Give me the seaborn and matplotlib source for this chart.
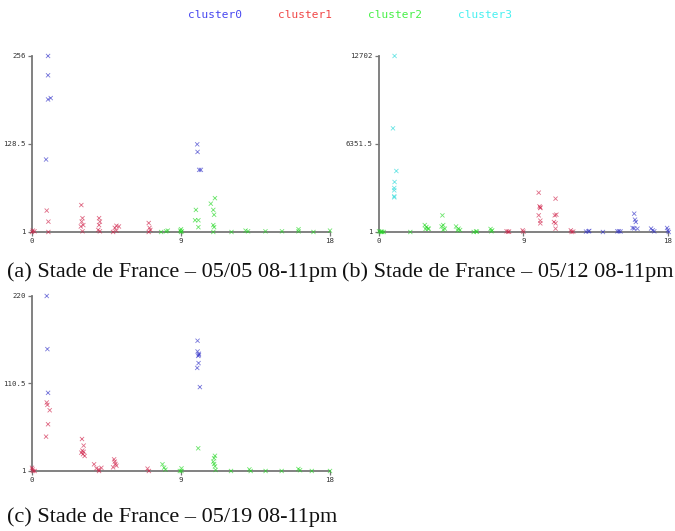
import matplotlib
matplotlib.use("Agg")
import matplotlib.pyplot as plt
import seaborn as sns
import pandas as pd

# ---- data: hourly counts per cluster, three evenings at Stade de France ----
clusters = ["cluster0", "cluster1", "cluster2", "cluster3"]
cluster_colors = ["#3030c8", "#d02048", "#22d822", "#22d8d8"]
legend_colors = ["#4646f0", "#f04646", "#46f046", "#46f0f0"]

x_ticks = [0, 9, 18]

# (a) 05/05
a_c0_x = [0.97, 0.97, 0.97, 1.13, 0.85, 9.98, 10.0, 10.1, 10.2]
a_c0_y = [256, 228, 193, 195, 106, 128, 117, 91, 91]
a_c1_x = [0.0, 0.05, 0.15, 0.89, 0.99, 0.99, 2.98, 3.05, 3.0, 3.1, 3.05, 2.95,
          4.05, 4.1, 4.05, 4.0, 4.1, 5.0, 5.1, 5.25, 5.1, 4.9, 7.05, 7.1, 7.05, 7.15]
a_c1_y = [1, 3, 2, 32, 16, 1, 40, 21, 16, 11, 2, 9,
          21, 16, 11, 4, 2, 7, 10, 9, 3, 1, 14, 7, 1, 4]
a_c2_x = [7.8, 8.1, 8.2, 9.0, 9.0, 8.95, 9.05, 9.9, 9.85, 10.05, 10.05, 10.8,
          11.05, 10.95, 11.0, 10.95, 11.0, 10.95, 12.05, 12.9, 13.05, 14.1, 15.1,
          16.1, 16.1, 17.0, 18.0]
a_c2_y = [1, 2, 3, 5, 1, 3, 2, 33, 18, 18, 8, 42,
          50, 33, 26, 11, 8, 1, 1, 3, 2, 2, 2, 5, 2, 1, 3]
a_y_ticks = [1, 128.5, 256]
a_y_labels = ["1", "128.5", "256"]

# (b) 05/12
b_c3_x = [0.97, 0.87, 1.08, 0.97, 0.95, 0.95, 0.95, 0.95]
b_c3_y = [12702, 7481, 4402, 3609, 3176, 3007, 2574, 2502]
b_c2_x = [0.0, 0.1, 0.2, 0.3, 0.15, 1.95, 2.85, 2.95, 3.05, 3.1, 2.9, 3.95, 4.0,
          3.9, 4.1, 4.0, 4.8, 4.95, 5.05, 4.9, 5.9, 6.05, 6.1, 6.95, 7.05, 7.0]
b_c2_y = [50, 10, 1, 1, 30, 1, 500, 360, 240, 240, 220, 1200, 500,
          400, 240, 160, 400, 240, 140, 120, 1, 50, 20, 220, 120, 50]
b_c1_x = [7.95, 8.05, 8.1, 8.95, 9.0, 9.95, 10.0, 10.05, 10.05, 9.95, 10.05, 10.05,
          11.0, 10.95, 11.05, 10.9, 11.0, 11.0, 11.95, 12.0, 12.1]
b_c1_y = [50, 20, 30, 120, 20, 2839, 1850, 1730, 1780, 1203, 819, 626,
          2406, 1203, 1250, 722, 626, 241, 120, 1, 30]
b_c0_x = [12.9, 13.05, 13.1, 13.95, 14.85, 14.95, 15.05, 15.9, 15.95, 16.0, 15.9,
          15.8, 16.1, 16.95, 17.05, 17.15, 17.95, 18.0, 18.05]
b_c0_y = [30, 50, 80, 1, 50, 60, 40, 1324, 890, 722, 265,
          290, 240, 250, 120, 50, 290, 120, 1]
b_y_ticks = [1, 6351.5, 12702]
b_y_labels = ["1", "6351.5", "12702"]

# (c) 05/19
c_c0_x = [0.89, 0.93, 0.97, 10.0, 10.0, 10.08, 10.04, 10.08, 10.06, 9.98, 10.14]
c_c0_y = [220, 153.5, 98.8, 164, 150.6, 147.7, 145, 146, 136, 130, 106]
c_c1_x = [0.0, 0.03, 0.06, 0.16, 0.89, 0.93, 1.07, 0.97, 0.85, 3.02, 3.12, 3.04,
          2.98, 3.12, 3.08, 3.18, 3.75, 3.89, 4.03, 4.19, 4.05, 4.96, 5.0, 5.04,
          5.1, 4.9, 6.98, 7.06]
c_c1_y = [5, 3, 1, 1, 86.7, 83.7, 77, 59.5, 44, 41, 32.8, 26.5,
          24, 25, 22, 19.8, 9.4, 4.3, 3, 5, 1, 15.6, 12.7, 9.8,
          7.7, 5.6, 4, 1]
c_c2_x = [7.88, 7.98, 8.06, 9.03, 9.03, 8.93, 10.04, 11.05, 11.0, 10.95, 11.0,
          11.05, 11.09, 12.02, 13.13, 13.21, 14.11, 15.08, 16.09, 16.19, 16.9, 18.0]
c_c2_y = [9.4, 5.2, 2.7, 4.3, 1, 1, 29.4, 20, 17, 12.7, 9.8,
          6.8, 2.3, 1, 3, 1, 1, 1, 3.5, 2, 1, 1]
c_y_ticks = [1, 110.5, 220]
c_y_labels = ["1", "110.5", "220"]

captions = ["(a) Stade de France \u2013 05/05 08-11pm",
            "(b) Stade de France \u2013 05/12 08-11pm",
            "(c) Stade de France \u2013 05/19 08-11pm"]


def frame(groups):
    rows = []
    for name, xs, ys in groups:
        for xv, yv in zip(xs, ys):
            rows.append({"hour": xv, "count": yv, "cluster": name})
    return pd.DataFrame(rows)


df_a = frame([("cluster0", a_c0_x, a_c0_y), ("cluster1", a_c1_x, a_c1_y),
              ("cluster2", a_c2_x, a_c2_y)])
df_b = frame([("cluster3", b_c3_x, b_c3_y), ("cluster2", b_c2_x, b_c2_y),
              ("cluster1", b_c1_x, b_c1_y), ("cluster0", b_c0_x, b_c0_y)])
df_c = frame([("cluster0", c_c0_x, c_c0_y), ("cluster1", c_c1_x, c_c1_y),
              ("cluster2", c_c2_x, c_c2_y)])

sns.set_style("white")
plt.rcParams["font.family"] = ["DejaVu Sans Mono", "DejaVu Sans"]

palette = dict(zip(clusters, cluster_colors))

fig = plt.figure(figsize=(6.75, 5.31), dpi=100)
ax_a = fig.add_axes([0.0474, 0.5631, 0.4415, 0.3315])
ax_b = fig.add_axes([0.5615, 0.5631, 0.4280, 0.3315])
ax_c = fig.add_axes([0.0474, 0.1130, 0.4415, 0.3296])

panels = [(ax_a, df_a, a_y_ticks, a_y_labels),
          (ax_b, df_b, b_y_ticks, b_y_labels),
          (ax_c, df_c, c_y_ticks, c_y_labels)]

for ax, df, yt, yl in panels:
    sns.scatterplot(data=df, x="hour", y="count", hue="cluster", palette=palette,
                    marker="x", s=9, linewidth=0.6, alpha=0.65, legend=False,
                    ax=ax, clip_on=False, zorder=3)
    ax.set_xlim(x_ticks[0], x_ticks[-1])
    ax.set_ylim(yt[0], yt[-1])
    ax.set_xticks(x_ticks)
    ax.set_xticklabels([str(t) for t in x_ticks])
    ax.set_yticks(yt)
    ax.set_yticklabels(yl)
    ax.set_xlabel("")
    ax.set_ylabel("")
    for side in ("top", "right"):
        ax.spines[side].set_visible(False)
    for side in ("left", "bottom"):
        ax.spines[side].set_color("#777777")
        ax.spines[side].set_linewidth(1.3)
    ax.tick_params(axis="both", direction="out", length=3, width=0.9,
                   color="#777777", labelsize=5.3, labelcolor="#333333", pad=1.5)
    ax.tick_params(axis="x", bottom=True)
    ax.tick_params(axis="y", left=True)
    ax.set_facecolor("none")

# colored text legend along the top
for i, (name, col) in enumerate(zip(clusters, legend_colors)):
    fig.text((215 + 90 * i) / 675, 1 - 15 / 531, name, color=col,
             fontsize=8, ha="center", va="center", family="DejaVu Sans Mono")

# sub-figure captions
cap_font = dict(family="Liberation Serif", fontsize=16, color="#111111",
                ha="center", va="center")
fig.text(172 / 675, 1 - 272 / 531, captions[0], **cap_font)
fig.text(508 / 675, 1 - 272 / 531, captions[1], **cap_font)
fig.text(172 / 675, 1 - 517 / 531, captions[2], **cap_font)

fig.savefig("out.png", dpi=100, facecolor="white")
